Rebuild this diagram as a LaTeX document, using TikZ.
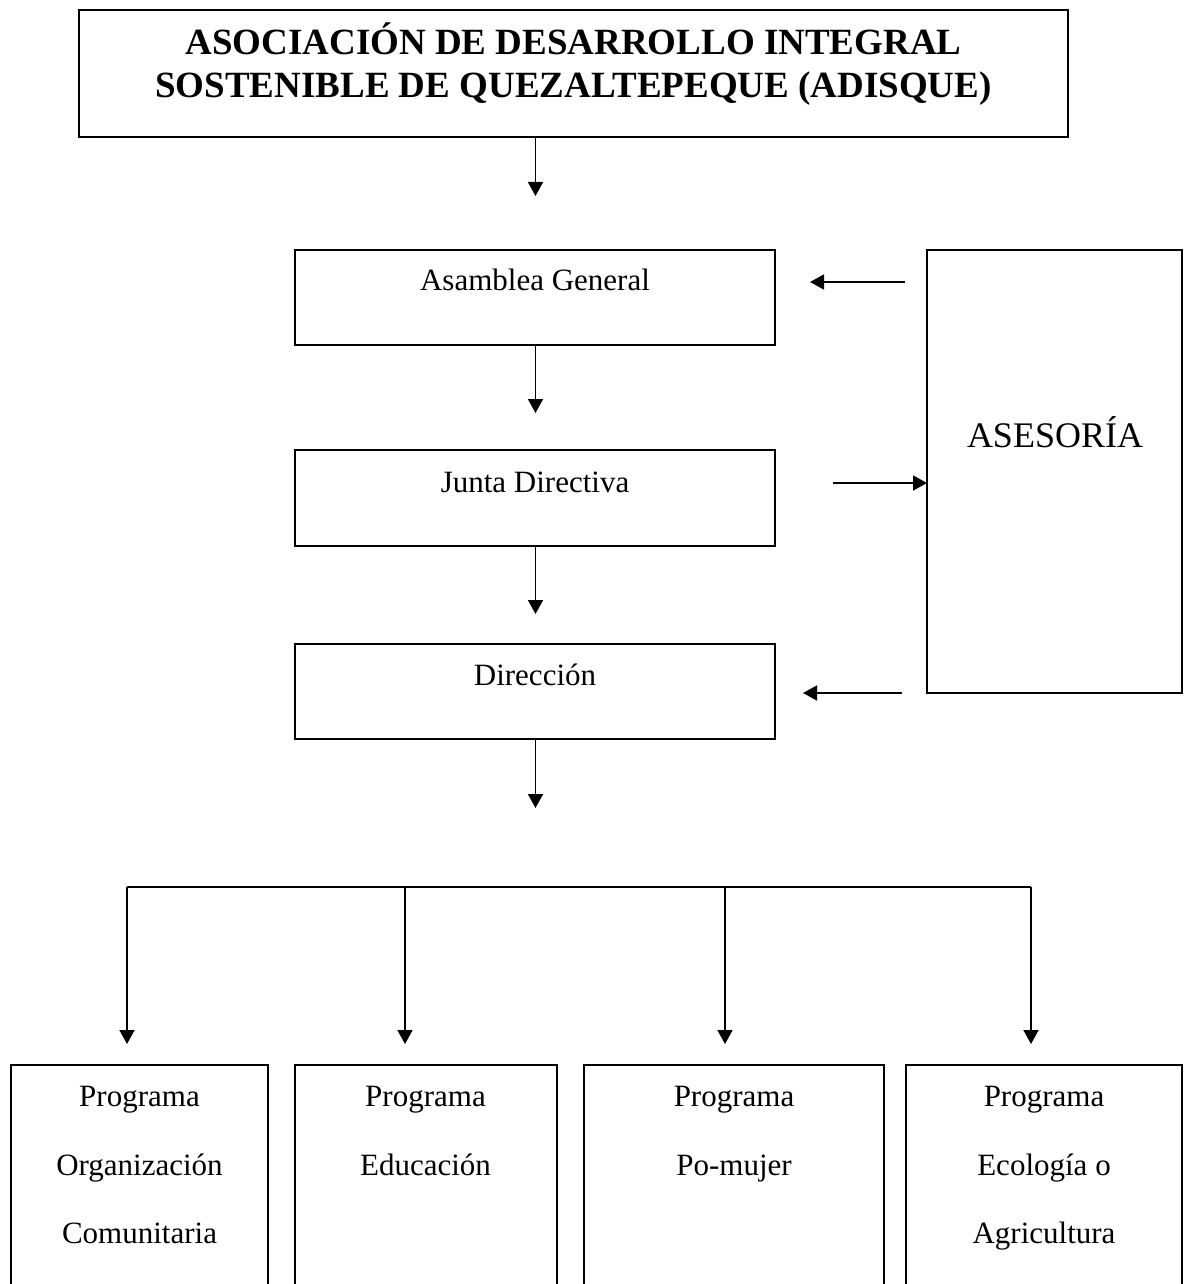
\documentclass[tikz,border=0pt]{standalone}
\usepackage{fontspec}
\setmainfont{Liberation Serif}
\usetikzlibrary{arrows.meta}
\begin{document}
\begin{tikzpicture}[x=1pt,y=-1pt,
  box/.style={draw,line width=2pt,inner sep=0pt,outer sep=0pt,anchor=north west},
  lbl/.style={anchor=base,inner sep=0pt,font=\fontsize{31}{31}\selectfont},
  ttl/.style={anchor=base,inner sep=0pt,font=\fontsize{37}{37}\selectfont\bfseries},
  big/.style={anchor=base,inner sep=0pt,font=\fontsize{36}{36}\selectfont},
  arr/.style={line width=1.6pt,-{Triangle[length=14pt,width=15pt]}},
  ln/.style={line width=1.6pt}]
\useasboundingbox (0,0) rectangle (1184,1284);
\clip (0,0) rectangle (1184,1284);

% boxes
\node[box,minimum width=989pt,minimum height=127pt] (title) at (79,10) {};
\node[box,minimum width=480pt,minimum height=95pt] (ag) at (295,250) {};
\node[box,minimum width=480pt,minimum height=96pt] (jd) at (295,450) {};
\node[box,minimum width=480pt,minimum height=95pt] (dir) at (295,644) {};
\node[box,minimum width=255pt,minimum height=443pt] (ases) at (927,250) {};
\node[box,minimum width=257pt,minimum height=300pt] (p1) at (11,1065) {};
\node[box,minimum width=262pt,minimum height=300pt] (p2) at (294.5,1065) {};
\node[box,minimum width=299.5pt,minimum height=300pt] (p3) at (584,1065) {};
\node[box,minimum width=276pt,minimum height=300pt] (p4) at (906,1065) {};

% texts
\node[ttl] (t1) at (573.5,55) {ASOCIACIÓN DE DESARROLLO INTEGRAL};
\node[ttl] (t2) at (573.5,98) {SOSTENIBLE DE QUEZALTEPEQUE (ADISQUE)};
\node[lbl] (agt) at (535,290) {Asamblea General};
\node[lbl] (jdt) at (535,492) {Junta Directiva};
\node[lbl] (dirt) at (535,685) {Dirección};
\node[big] (asest) at (1055,447) {ASESORÍA};

\node[lbl] (p1a) at (139.5,1106) {Programa};
\node[lbl] (p1b) at (139.5,1175) {Organización};
\node[lbl] (p1c) at (139.5,1243) {Comunitaria};
\node[lbl] (p2a) at (425.5,1106) {Programa};
\node[lbl] (p2b) at (425.5,1175) {Educación};
\node[lbl] (p3a) at (734,1106) {Programa};
\node[lbl] (p3b) at (734,1175) {Po-mujer};
\node[lbl] (p4a) at (1044,1106) {Programa};
\node[lbl] (p4b) at (1044,1175) {Ecología o};
\node[lbl] (p4c) at (1044,1243) {Agricultura};

% vertical chain arrows
\coordinate (agTip) at (535.5,196);
\coordinate (jdTip) at (535.5,413);
\coordinate (dirTip) at (535.5,614);
\coordinate (busTip) at (535.5,808);
\draw[arr] (agTip |- title.south) -- (agTip);
\draw[arr] (jdTip |- ag.south) -- (jdTip);
\draw[arr] (dirTip |- jd.south) -- (dirTip);
\draw[arr] (busTip |- dir.south) -- (busTip);

% asesoria arrows
\coordinate (a1s) at (905,282);
\coordinate (a1e) at (810,282);
\draw[arr] (a1s) -- (a1e);
\coordinate (a2s) at (833,483);
\draw[arr] (a2s) -- (a2s -| ases.west);
\coordinate (a3s) at (902,693);
\coordinate (a3e) at (803,693);
\draw[arr] (a3s) -- (a3e);

% program bus
\coordinate (b1) at (127,887);
\coordinate (b2) at (405,887);
\coordinate (b3) at (725,887);
\coordinate (b4) at (1031,887);
\draw[ln] (b1) -- (b4);
\foreach \b in {b1,b2,b3,b4} {
  \draw[arr] (\b) -- ([yshift=-157pt]\b);
}
\end{tikzpicture}
\end{document}
